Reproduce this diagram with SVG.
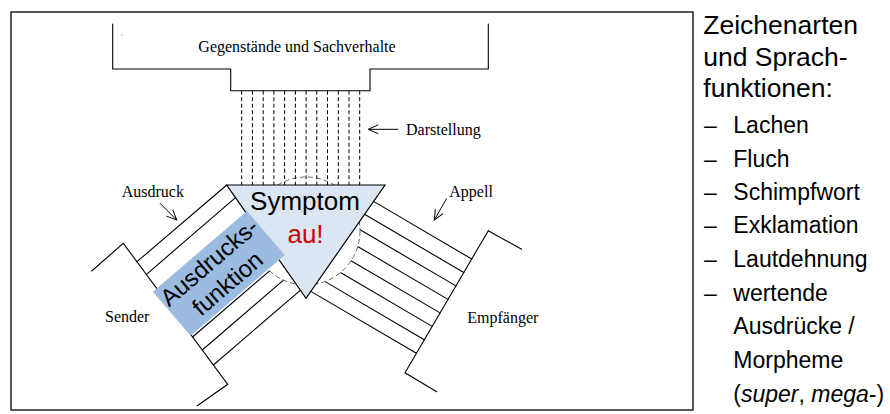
<svg xmlns="http://www.w3.org/2000/svg" width="890" height="414" viewBox="0 0 890 414">
<defs>
<style>
.ln{fill:none;stroke:#000;stroke-width:1.1;stroke-linecap:round;stroke-linejoin:miter}
.dash{fill:none;stroke:#000;stroke-width:1;stroke-dasharray:4 2.5}
.serif{font-family:"Liberation Serif","Times New Roman",serif;font-size:16px;fill:#000}
.sans{font-family:"Liberation Sans",Arial,sans-serif;fill:#000}
.head{font-size:26.5px}
.item{font-size:23px}
.arr{fill:none;stroke:#000;stroke-width:1;marker-end:url(#open)}
</style>
<marker id="open" viewBox="-11 -6 12 12" refX="0" refY="0" markerWidth="12" markerHeight="12" markerUnits="userSpaceOnUse" orient="auto">
<path d="M-10,-4.5 L0,0 L-10,4.5" fill="none" stroke="#000" stroke-width="1"/>
</marker>
</defs>
<rect width="890" height="414" fill="#fff"/>
<g id="frame">
<rect x="11" y="12" width="682" height="398" fill="none" stroke="#000" stroke-width="1.3"/>
</g>
<g id="gegenstaende">
<path class="ln" d="M112.7,24 V69 H230.7 V90.7 H370 V69 H488.3 V24"/>
<line x1="120.5" y1="35" x2="123" y2="35" stroke="#bbb" stroke-width="1"/>
<text class="serif" x="297" y="52" text-anchor="middle">Gegenstände und Sachverhalte</text>
</g>
<g id="sender">
<path class="ln" d="M91.7,271 L123.3,243.3 L227.7,384.3 L197.3,405.7"/>
<path class="ln" d="M137,261.7 L226.7,185 M146.5,274.3 L237.8,195.7 M192.6,337 L276,265.3 M202.3,350 L285.8,278.1 M213.4,365 L302.6,288.3"/>
<text class="serif" x="105" y="322">Sender</text>
</g>
<g id="empfaenger">
<path class="ln" d="M521.7,249.3 L488.3,230.7 L405,372.7 L436.7,391.7"/>
<path class="ln" d="M471.7,259 L371,199.9 M463.8,272.5 L362,212.8 M455.9,285.9 L357.6,228.3 M448,299.4 L355.1,245 M440.1,312.9 L348.4,259.2 M432.2,326.4 L337.9,271 M424.3,339.8 L322.6,280.1 M416.4,353.3 L308.3,289.9"/>
<text class="serif" x="467.3" y="322.7">Empfänger</text>
</g>
<g id="zeichen">
<circle cx="306" cy="231" r="54" fill="#fff" stroke="#666" stroke-width="1" stroke-dasharray="5 3"/>
</g>
<g id="connectors">
<path class="dash" d="M241.7,90.7 V185 M252.4,90.7 V185 M263.2,90.7 V185 M273.9,90.7 V185 M284.6,90.7 V185 M295.4,90.7 V185 M306.1,90.7 V185 M316.8,90.7 V185 M327.5,90.7 V185 M338.3,90.7 V185 M349,90.7 V185 M359.7,90.7 V185"/>
<line class="arr" x1="398.3" y1="129.3" x2="368.3" y2="129.3"/>
<line class="arr" x1="160" y1="203.3" x2="176.7" y2="220"/>
<line class="arr" x1="446.7" y1="198.3" x2="434.3" y2="220"/>
<text class="serif" x="406" y="135">Darstellung</text>
<text class="serif" x="121.7" y="196.7">Ausdruck</text>
<text class="serif" x="449.3" y="196.7">Appell</text>
</g>
<g id="symptom">
<polygon points="226.7,185 385,185 306,298.3" fill="#dce6f2" stroke="#000" stroke-width="1.2" stroke-linejoin="miter"/>
<text class="sans" x="305" y="210" font-size="26" text-anchor="middle">Symptom</text>
<text class="sans" x="305.5" y="243.3" font-size="26" text-anchor="middle" fill="#d40000" style="fill:#d40000">au!</text>
</g>
<g id="ausdrucksfunktion" transform="translate(218.8,273.4) rotate(-40.6)">
<rect x="-62" y="-29" width="124" height="58" fill="#9bbbe0"/>
<text class="sans" x="0" y="-6.5" font-size="24" text-anchor="middle">Ausdrucks-</text>
<text class="sans" x="0" y="21.5" font-size="24" text-anchor="middle">funktion</text>
</g>
<g id="legende" class="sans">
<text class="sans head" x="703.3" y="34">Zeichenarten</text>
<text class="sans head" x="703.3" y="65.5">und Sprach-</text>
<text class="sans head" x="703.3" y="97">funktionen:</text>
<g class="item">
<text class="sans item" x="704" y="133.3">–</text><text class="sans item" x="733.3" y="133.3">Lachen</text>
<text class="sans item" x="704" y="166.7">–</text><text class="sans item" x="733.3" y="166.7">Fluch</text>
<text class="sans item" x="704" y="200">–</text><text class="sans item" x="733.3" y="200">Schimpfwort</text>
<text class="sans item" x="704" y="233.3">–</text><text class="sans item" x="733.3" y="233.3">Exklamation</text>
<text class="sans item" x="704" y="266.7">–</text><text class="sans item" x="733.3" y="266.7">Lautdehnung</text>
<text class="sans item" x="704" y="300.5">–</text><text class="sans item" x="733.3" y="300.5">wertende</text>
<text class="sans item" x="733.3" y="334">Ausdrücke /</text>
<text class="sans item" x="733.3" y="367.5">Morpheme</text>
<text class="sans item" x="733.3" y="401.5">(<tspan font-style="italic">super</tspan>, <tspan font-style="italic">mega</tspan>-)</text>
</g>
</g>
</svg>
